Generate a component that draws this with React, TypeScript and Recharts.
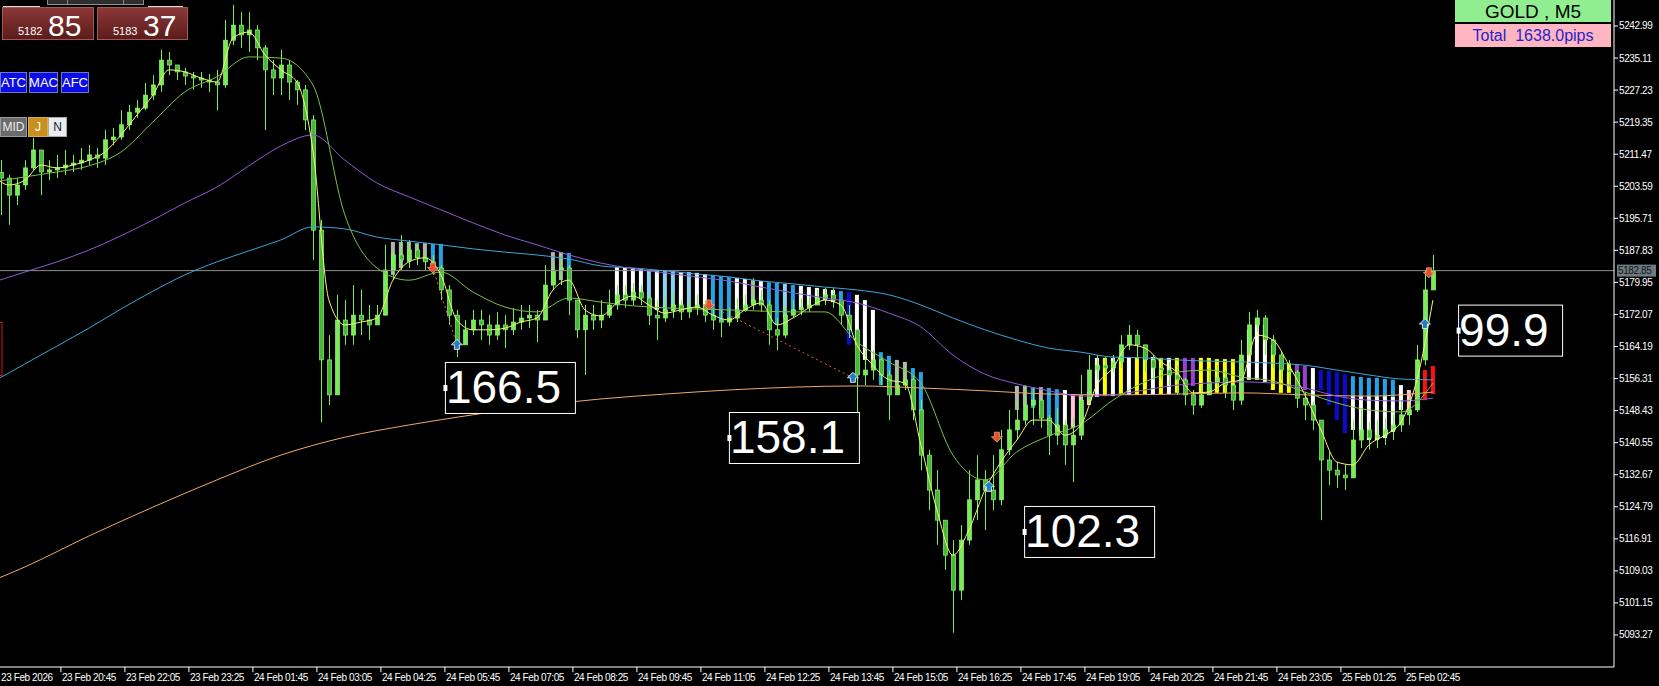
import React from "react";
import { ComposedChart, Bar, Line, Scatter, XAxis, YAxis, ReferenceLine } from "recharts";

const W = 1659;
const H = 686;
const FONT = "Liberation Sans, Arial, sans-serif";

// t = number of M5 bars since 23 Feb 20:45
const X_DOMAIN: [number, number] = [-15.225, 388.275];
const Y_DOMAIN: [number, number] = [5085.4, 5249.38];

// 10-minute candles, starting at t = -15
const barStart = -15;
const barStep = 2;
const firstOpen = 5207.0;
const closes = [
  5205.6, 5201.4, 5203.9, 5208.1, 5212.5, 5207.1, 5207.6, 5208.1, 5208.8, 5209.3,
  5210.0, 5211.3, 5210.5, 5215.0, 5215.7, 5218.7, 5221.8, 5222.8, 5226.0, 5228.5,
  5234.6, 5233.4, 5231.7, 5230.7, 5230.2, 5229.7, 5229.2, 5228.5, 5239.5, 5243.2,
  5240.8, 5242.0, 5237.6, 5232.2, 5230.2, 5233.4, 5229.2, 5227.3, 5219.9, 5192.8,
  5160.9, 5152.3, 5170.7, 5167.0, 5171.9, 5170.7, 5169.5, 5171.9, 5183.0, 5186.7,
  5185.5, 5187.9, 5186.0, 5185.0, 5183.5, 5178.1, 5171.9, 5164.6, 5168.3, 5170.7,
  5169.5, 5167.0, 5169.5, 5168.3, 5170.2, 5171.2, 5171.9, 5170.7, 5179.3, 5183.0,
  5183.5, 5175.6, 5168.3, 5171.9, 5170.7, 5171.9, 5174.4, 5176.9, 5175.6, 5177.6,
  5176.1, 5171.9, 5171.2, 5173.2, 5174.4, 5172.7, 5173.7, 5174.4, 5171.9, 5170.7,
  5170.2, 5171.2, 5173.2, 5174.4, 5175.6, 5174.4, 5168.3, 5167.0, 5171.9, 5173.2,
  5173.7, 5174.4, 5176.1, 5176.9, 5175.6, 5171.9, 5168.3, 5157.2, 5158.4, 5160.9,
  5157.2, 5152.3, 5154.7, 5156.0, 5148.6, 5137.5, 5128.9, 5121.5, 5112.9, 5104.3,
  5116.6, 5126.5, 5131.4, 5128.9, 5126.5, 5138.8, 5143.7, 5146.1, 5149.8, 5151.0,
  5146.6, 5142.4, 5144.9, 5140.0, 5142.4, 5151.0, 5158.4, 5159.6, 5158.9, 5160.4,
  5164.6, 5167.0, 5164.6, 5160.9, 5158.9, 5158.4, 5157.2, 5156.0, 5152.3, 5149.8,
  5152.3, 5155.5, 5156.5, 5154.7, 5151.0, 5162.1, 5169.5, 5171.2, 5165.8, 5162.1,
  5158.4, 5157.9, 5151.5, 5149.8, 5146.1, 5136.3, 5133.8, 5132.6, 5131.9, 5141.2,
  5143.7, 5141.7, 5142.4, 5143.7, 5144.9, 5147.4, 5148.6, 5160.9, 5178.1, 5182.85,
];
const highs = [
  5210.0, 5206.4, 5205.6, 5210.0, 5215.5, 5212.5, 5210.0, 5211.3, 5212.5, 5211.3,
  5213.0, 5213.7, 5213.0, 5217.4, 5217.9, 5222.3, 5223.6, 5224.8, 5229.0, 5230.9,
  5237.1, 5236.6, 5233.4, 5232.7, 5231.7, 5231.7, 5231.2, 5232.2, 5244.5, 5248.2,
  5246.4, 5246.4, 5243.2, 5238.3, 5234.6, 5237.1, 5234.6, 5229.7, 5228.5, 5221.1,
  5195.3, 5167.0, 5176.9, 5175.6, 5179.3, 5178.1, 5174.4, 5174.4, 5189.2, 5187.9,
  5191.6, 5190.4, 5189.2, 5187.9, 5186.7, 5184.2, 5179.3, 5173.2, 5170.7, 5173.2,
  5173.2, 5171.9, 5172.7, 5171.9, 5173.7, 5174.4, 5174.4, 5173.2, 5184.2, 5185.0,
  5186.7, 5184.2, 5175.6, 5174.4, 5174.4, 5175.6, 5178.1, 5179.3, 5179.3, 5179.8,
  5179.3, 5176.9, 5175.6, 5176.1, 5177.6, 5175.6, 5175.6, 5176.9, 5175.6, 5173.7,
  5173.2, 5173.7, 5176.1, 5176.9, 5181.0, 5178.1, 5175.6, 5171.2, 5174.4, 5175.6,
  5176.1, 5176.9, 5178.1, 5178.6, 5178.6, 5175.6, 5174.4, 5168.3, 5163.3, 5163.3,
  5161.4, 5158.4, 5158.4, 5159.6, 5157.2, 5151.0, 5138.8, 5133.8, 5121.5, 5116.6,
  5120.3, 5133.8, 5137.5, 5133.8, 5137.5, 5143.7, 5148.6, 5151.0, 5154.7, 5154.0,
  5151.5, 5147.4, 5149.1, 5146.1, 5146.6, 5157.2, 5162.1, 5162.1, 5161.6, 5162.1,
  5167.0, 5169.5, 5168.3, 5164.6, 5162.1, 5161.4, 5160.4, 5159.6, 5156.5, 5153.5,
  5154.7, 5158.9, 5159.6, 5158.4, 5154.7, 5165.8, 5172.7, 5173.2, 5171.9, 5167.0,
  5162.8, 5160.9, 5158.4, 5153.0, 5150.6, 5146.1, 5138.3, 5135.8, 5135.1, 5146.1,
  5148.6, 5145.6, 5146.1, 5146.6, 5147.4, 5151.0, 5151.5, 5164.6, 5183.0, 5186.7,
];
const lows = [
  5196.5, 5194.1, 5199.0, 5202.7, 5207.6, 5201.4, 5205.1, 5205.6, 5206.4, 5207.1,
  5207.6, 5208.8, 5208.1, 5208.8, 5213.7, 5215.0, 5217.4, 5220.4, 5222.3, 5224.8,
  5226.8, 5230.9, 5229.7, 5228.5, 5227.3, 5227.8, 5226.8, 5222.3, 5227.8, 5238.3,
  5237.6, 5236.6, 5234.6, 5217.4, 5226.0, 5226.0, 5224.8, 5223.6, 5217.4, 5185.5,
  5145.6, 5149.8, 5164.6, 5164.6, 5164.6, 5167.0, 5165.8, 5169.5, 5171.9, 5180.5,
  5183.0, 5183.5, 5184.2, 5183.0, 5181.8, 5175.6, 5169.5, 5161.6, 5164.6, 5167.0,
  5165.8, 5164.6, 5165.8, 5163.8, 5167.0, 5168.3, 5168.7, 5165.3, 5170.7, 5178.1,
  5179.3, 5171.9, 5166.3, 5157.2, 5168.3, 5168.7, 5171.2, 5173.2, 5173.7, 5174.4,
  5174.4, 5169.5, 5165.8, 5170.2, 5171.2, 5170.7, 5171.2, 5171.9, 5170.2, 5168.3,
  5166.5, 5169.2, 5170.2, 5172.7, 5173.2, 5172.7, 5164.6, 5163.3, 5166.3, 5171.2,
  5171.9, 5172.7, 5174.4, 5174.4, 5173.7, 5169.5, 5166.3, 5146.6, 5154.7, 5156.0,
  5154.7, 5146.1, 5152.3, 5153.5, 5146.1, 5133.8, 5124.0, 5115.4, 5109.3, 5093.8,
  5101.9, 5115.4, 5121.5, 5119.1, 5124.0, 5125.2, 5137.5, 5141.2, 5144.9, 5144.9,
  5144.2, 5137.5, 5140.0, 5135.1, 5130.9, 5141.2, 5149.8, 5156.0, 5156.5, 5157.9,
  5158.9, 5163.3, 5160.9, 5157.9, 5156.0, 5156.0, 5154.7, 5152.3, 5149.8, 5147.4,
  5149.1, 5153.0, 5153.5, 5151.5, 5148.6, 5149.8, 5162.1, 5167.8, 5162.1, 5158.9,
  5156.0, 5154.7, 5149.1, 5146.1, 5143.7, 5121.5, 5130.1, 5129.4, 5128.9, 5131.9,
  5139.2, 5138.8, 5139.2, 5140.0, 5141.2, 5143.2, 5144.9, 5148.1, 5159.6, 5178.1,
];

// moving averages
const fastStart = -17;
const fastStep = 4;
const fastMa = [
  5206.4, 5203.9, 5205.1, 5208.8, 5208.1, 5208.8, 5210.0, 5212.0, 5216.2, 5221.1,
  5226.0, 5232.2, 5231.7, 5230.2, 5229.2, 5240.0, 5241.5, 5235.9, 5232.2, 5229.2,
  5212.5, 5175.6, 5169.5, 5170.2, 5171.2, 5180.5, 5185.0, 5186.0, 5181.8, 5170.7,
  5168.3, 5168.3, 5168.7, 5170.2, 5171.2, 5178.1, 5180.5, 5173.2, 5171.7, 5174.9,
  5176.6, 5174.4, 5172.4, 5173.2, 5173.9, 5171.9, 5170.7, 5173.2, 5174.9, 5169.5,
  5171.2, 5173.7, 5175.6, 5174.4, 5164.6, 5159.6, 5156.0, 5155.2, 5140.0, 5124.0,
  5112.9, 5119.1, 5128.9, 5135.8, 5141.2, 5146.1, 5146.1, 5142.4, 5144.9, 5154.7,
  5158.9, 5164.6, 5163.8, 5160.4, 5157.9, 5152.8, 5153.0, 5155.2, 5156.0, 5167.0,
  5165.8, 5159.6, 5152.3, 5143.7, 5135.8, 5135.1, 5140.0, 5142.4, 5145.6, 5156.0,
  5175.6,
];
const slowStart = -17;
const slowStep = 8;
const greenMa = [
  5204.6, 5205.9, 5207.1, 5208.6, 5212.0, 5219.4, 5226.8, 5230.5, 5235.4, 5235.1,
  5228.5, 5196.5, 5183.5, 5180.5, 5182.5, 5177.6, 5173.9, 5172.7, 5176.1, 5175.1,
  5174.2, 5173.7, 5173.4, 5173.2, 5172.9, 5172.7, 5172.7, 5165.3, 5160.4, 5155.2,
  5137.5, 5131.4, 5138.3, 5142.2, 5145.1, 5151.0, 5155.5, 5157.9, 5158.4, 5156.7,
  5155.7, 5153.0, 5150.3, 5148.6, 5148.1, 5155.2,
];
const cyanMa = [
  5155.5, 5159.9, 5164.3, 5168.7, 5173.4, 5177.8, 5181.8, 5185.0, 5187.7, 5190.4,
  5193.6, 5193.1, 5191.1, 5190.1, 5189.2, 5188.2, 5187.4, 5186.7, 5185.7, 5184.0,
  5183.5, 5182.8, 5182.0, 5181.3, 5180.3, 5179.6, 5178.8, 5178.1, 5176.9, 5174.4,
  5171.2, 5168.3, 5165.8, 5163.8, 5162.8, 5161.6, 5161.4, 5160.9, 5160.6, 5160.4,
  5160.1, 5159.6, 5158.4, 5157.2, 5156.2, 5156.0,
];
const purpleMa = [
  5180.0, 5182.5, 5185.0, 5187.9, 5191.4, 5195.3, 5199.5, 5203.4, 5208.6, 5213.5,
  5216.2, 5210.0, 5204.4, 5201.0, 5197.8, 5194.6, 5191.6, 5189.2, 5186.7, 5184.7,
  5183.3, 5182.3, 5181.3, 5180.3, 5178.8, 5177.4, 5176.1, 5174.9, 5172.4, 5169.0,
  5162.1, 5157.4, 5155.0, 5153.3, 5152.0, 5152.3, 5153.5, 5154.7, 5155.2, 5155.5,
  5155.2, 5154.0, 5152.0, 5151.0, 5150.8, 5151.5,
];
const orangeStart = -25;
const orangeStep = 16;
const orangeMa = [
  5103.6, 5110.0, 5117.6, 5124.7, 5131.4, 5137.5, 5141.9, 5144.9, 5147.4, 5149.6,
  5151.3, 5152.5, 5153.5, 5154.2, 5154.5, 5154.0, 5153.3, 5152.5, 5152.3, 5152.5,
  5152.8, 5152.3, 5152.0, 5153.0,
];

// trend histogram: runs of candle indexes, one tone letter per bar
const histFirst = [49, 69, 77, 127];
const histTones = [
  "gggggcc",
  "ggc",
  "wwwwswsswswwcccwwgwccscwwwwwcdwwwccggcc",
  "ggcgccwl" + "llwywywyyw" + "ywyppyyyyy" + "kwwwyyyppw" + "ddddcccccc" + "wlrrr",
];
const histTop = [
  5189.9, 5189.9, 5189.9, 5189.6, 5189.6, 5189.4, 5189.4,
  5187.4, 5187.4, 5187.2,
  5183.7, 5183.5, 5183.5, 5183.3, 5183.0, 5183.0, 5182.8, 5182.8, 5182.5, 5182.5,
  5182.3, 5182.0, 5181.8, 5181.5, 5181.3, 5181.0, 5180.8, 5180.5, 5180.3, 5180.0,
  5179.8, 5179.6, 5179.3, 5179.1, 5178.8, 5178.6, 5178.3, 5178.1, 5177.8, 5177.6,
  5176.9, 5175.6, 5173.2, 5162.8, 5161.9, 5160.9, 5160.4, 5158.9, 5157.9,
  5154.5, 5154.5, 5154.2, 5154.2, 5154.0, 5153.7, 5153.5, 5152.3,
  5152.3, 5153.0, 5161.4, 5161.4, 5161.4, 5161.6, 5161.6, 5161.6, 5161.6, 5161.6,
  5161.4, 5161.4, 5161.4, 5161.4, 5161.4, 5161.4, 5161.4, 5161.1, 5161.1, 5161.1,
  5160.9, 5168.3, 5171.2, 5169.5, 5164.6, 5160.4, 5160.1, 5159.9, 5159.4, 5158.9,
  5158.4, 5158.2, 5157.9, 5157.4, 5156.9, 5156.7, 5156.5, 5156.5, 5156.2, 5156.0,
  5154.7, 5153.5, 5157.9, 5158.4, 5159.4,
];
const histBottom = [
  5181.8, 5183.5, 5185.0, 5186.0, 5185.5, 5185.0, 5182.5,
  5179.3, 5180.5, 5178.1,
  5174.9, 5175.6, 5176.6, 5176.1, 5174.4, 5173.2, 5172.4, 5172.9, 5173.2, 5173.7,
  5173.9, 5172.7, 5171.9, 5170.7, 5171.2, 5172.7, 5173.7, 5174.9, 5174.4, 5170.2,
  5169.5, 5171.2, 5171.9, 5173.2, 5173.9, 5174.9, 5175.6, 5175.1, 5173.9, 5164.6,
  5164.6, 5160.9, 5158.9, 5154.7, 5154.0, 5154.7, 5154.7, 5151.0, 5147.4,
  5148.6, 5149.8, 5149.1, 5147.4, 5144.9, 5143.7, 5143.2, 5144.2,
  5144.9, 5149.8, 5151.8, 5152.0, 5152.0, 5152.3, 5152.3, 5152.3, 5152.5, 5152.5,
  5152.5, 5152.5, 5152.8, 5154.0, 5154.5, 5152.8, 5152.8, 5152.8, 5152.8, 5152.8,
  5152.3, 5156.0, 5156.0, 5155.5, 5153.5, 5152.8, 5152.8, 5154.0, 5153.5, 5149.8,
  5153.5, 5149.8, 5146.1, 5142.9, 5152.0, 5152.0, 5152.0, 5152.0, 5152.0, 5151.8,
  5148.6, 5148.1, 5149.8, 5151.0, 5152.5,
];
// white bars under the last cyan run
const underFirst = 169;
const underTop = [5152.0, 5152.0, 5152.0, 5152.0, 5152.0, 5151.8];
const underBottom = [5143.7, 5142.2, 5141.2, 5141.2, 5141.7, 5143.2];

const toneColors: Record<string, string> = {
  w: "#ffffff",
  g: "#b4b4b4",
  s: "#8cd0f2",
  c: "#22a4e6",
  d: "#0a0ad2",
  y: "#ffff00",
  p: "#9a3ed8",
  k: "#ff5fa8",
  l: "#ffc4d8",
  r: "#ff1010",
};

// signal arrows and the dotted swing lines between them
const sellT = [93, 162, 234, 342];
const sellP = [5183.5, 5174.4, 5141.9, 5182.3];
const buyT = [99, 198, 232, 341];
const buyP = [5164.6, 5156.5, 5129.7, 5169.7];
const swingPairs = [0, 1];

// swing size boxes
const boxT = [96, 167, 240.8, 349.3];
const boxP = [5154.0, 5141.7, 5118.6, 5168.1];
const boxText = ["166.5", "158.1", "102.3", "99.9"];

const priceTicks = [
  5242.99, 5235.11, 5227.23, 5219.35, 5211.47, 5203.59, 5195.71, 5187.83, 5179.95, 5172.07,
  5164.19, 5156.31, 5148.43, 5140.55, 5132.67, 5124.79, 5116.91, 5109.03, 5101.15, 5093.27,
];
const lastPrice = 5182.85;
const dateLabel = "23 Feb 2026";
const timeLabels = [
  "23 Feb 20:45", "23 Feb 22:05", "23 Feb 23:25", "24 Feb 01:45", "24 Feb 03:05", "24 Feb 04:25",
  "24 Feb 05:45", "24 Feb 07:05", "24 Feb 08:25", "24 Feb 09:45", "24 Feb 11:05", "24 Feb 12:25",
  "24 Feb 13:45", "24 Feb 15:05", "24 Feb 16:25", "24 Feb 17:45", "24 Feb 19:05", "24 Feb 20:25",
  "24 Feb 21:45", "24 Feb 23:05", "25 Feb 01:25", "25 Feb 02:45",
];
const labelEvery = 16;

const bidQuote = ["5182", "85"];
const askQuote = ["5183", "37"];
const symbolTitle = "GOLD , M5";
const totalText = "Total  1638.0pips";

// ---- rows ----
const rows: any[] = closes.map((c, i) => {
  const o = i === 0 ? firstOpen : closes[i - 1];
  const hi = Math.max(highs[i], o, c);
  const lo = Math.min(lows[i], o, c);
  return { t: barStart + barStep * i, o, c, hi, lo, candle: [lo, hi] };
});
let hk = 0;
histFirst.forEach((first, r) => {
  histTones[r].split("").forEach((tone, j) => {
    const row = rows[first + j];
    row.hist = [histBottom[hk], histTop[hk]];
    row.tone = tone;
    hk += 1;
  });
});
underTop.forEach((top, j) => {
  rows[underFirst + j].under = [underBottom[j], top];
});

const series = (start: number, step: number, values: number[]) =>
  values.map((v, k) => ({ t: start + step * k, v }));

const sellPts = sellT.map((t, k) => ({ t, p: sellP[k] }));
const buyPts = buyT.map((t, k) => ({ t, p: buyP[k] }));
const boxPts = boxT.map((t, k) => ({ t, p: boxP[k], text: boxText[k] }));

// ---- shapes ----
function Candle(props: any) {
  const { x, y, width, height, payload } = props;
  if (!payload || !isFinite(y) || !isFinite(height)) return <g />;
  const { o, c, hi, lo } = payload;
  const k = hi > lo ? height / (hi - lo) : 0;
  const py = (v: number) => y + (hi - v) * k;
  const mid = Math.round(x + width / 2) + 0.5;
  const top = py(Math.max(o, c));
  const bot = py(Math.min(o, c));
  const up = c >= o;
  return (
    <g>
      <line x1={mid} x2={mid} y1={y} y2={y + height} stroke="#78f050" strokeWidth={1} />
      <rect
        x={mid - 2}
        y={top}
        width={4}
        height={Math.max(1, bot - top)}
        fill={up ? "#78ec58" : "#46b83a"}
        stroke="#92f872"
        strokeWidth={0.7}
      />
    </g>
  );
}

function HistBar(props: any) {
  const { x, y, width, height, payload } = props;
  if (!payload || !payload.tone || !isFinite(y) || !isFinite(height)) return <g />;
  return <rect x={x} y={y} width={width} height={Math.max(1, height)} fill={toneColors[payload.tone]} />;
}

function UnderBar(props: any) {
  const { x, y, width, height, payload } = props;
  if (!payload || !payload.under || !isFinite(y) || !isFinite(height)) return <g />;
  return <rect x={x} y={y} width={width} height={Math.max(1, height)} fill="#ffffff" />;
}

function SellArrow(props: any) {
  const { cx, cy } = props;
  return (
    <path
      d={`M${cx - 2.5},${cy - 5} h5 v4.5 h3 l-5.5,5.5 l-5.5,-5.5 h3 z`}
      fill="#e4502c"
      stroke="#f59a7c"
      strokeWidth={0.8}
    />
  );
}

function BuyArrow(props: any) {
  const { cx, cy } = props;
  return (
    <path
      d={`M${cx},${cy - 5.5} l5.5,5.5 h-3 v4.5 h-5 v-4.5 h-3 z`}
      fill="#1f7fbf"
      stroke="#e8f4ff"
      strokeWidth={0.9}
    />
  );
}

function SwingBox(props: any) {
  const { cx, cy, payload } = props;
  const text: string = payload.text;
  const w = 26 * text.length;
  return (
    <g>
      <rect x={cx + 0.5} y={cy - 25.5} width={w} height={51} fill="#000" stroke="#fff" strokeWidth={1} />
      <rect x={cx - 1.5} y={cy - 3} width={4} height={6} fill="#fff" />
      <text x={cx + 1} y={cy + 15.5} fill="#fff" fontSize={46} fontFamily={FONT}>
        {text}
      </text>
    </g>
  );
}

function TimeTick(props: any) {
  const { x, y, payload } = props;
  const first = payload.value === barStart;
  const label = first ? dateLabel : timeLabels[Math.round(payload.value / labelEvery)];
  return (
    <g>
      {!first && <line x1={x} x2={x} y1={y - 7} y2={y - 2} stroke="#fff" />}
      <text x={first ? 1 : x + 1} y={y + 7} fill="#fff" fontSize={10} letterSpacing={-0.4} fontFamily={FONT}>
        {label}
      </text>
    </g>
  );
}

function PriceTick(props: any) {
  const { x, y, payload } = props;
  return (
    <text x={x} y={y + 3.5} fill="#fff" fontSize={10} letterSpacing={-0.4} fontFamily={FONT} textAnchor="start">
      {Number(payload.value).toFixed(2)}
    </text>
  );
}

function PriceTag(props: any) {
  const vb = props.viewBox || {};
  const x = (vb.x ?? 0) + (vb.width ?? 0);
  const y = vb.y ?? 0;
  return (
    <g>
      <rect x={x + 3} y={y - 6} width={39} height={12} fill="#6f7a82" />
      <text x={x + 4} y={y + 3.5} fill="#121212" fontSize={10} letterSpacing={-0.4} fontFamily={FONT}>
        {lastPrice.toFixed(2)}
      </text>
    </g>
  );
}

function Overlay() {
  const quote = (left: number, width: number, q: string[]) => (
    <g>
      <rect x={left + 0.5} y={7.5} width={width} height={32} fill="url(#quoteGrad)" stroke="#a65656" />
      <text x={left + 16} y={35} fill="#fff" fontSize={11} fontFamily={FONT}>
        {q[0]}
      </text>
      <text x={left + 46} y={35.5} fill="#fff" fontSize={30} fontFamily={FONT}>
        {q[1]}
      </text>
    </g>
  );
  const button = (x: number, y: number, w: number, h: number, fill: string, stroke: string, color: string, label: string, size: number) => (
    <g>
      <rect x={x + 0.5} y={y + 0.5} width={w} height={h} fill={fill} stroke={stroke} />
      <text x={x + 0.5 + w / 2} y={y + h / 2 + size * 0.36} fill={color} fontSize={size} textAnchor="middle" fontFamily={FONT}>
        {label}
      </text>
    </g>
  );
  return (
    <svg width={W} height={H} style={{ position: "absolute", left: 0, top: 0, pointerEvents: "none" }}>
      <defs>
        <linearGradient id="quoteGrad" x1="0" y1="0" x2="0" y2="1">
          <stop offset="0" stopColor="#8c3838" />
          <stop offset="1" stopColor="#5a1b1b" />
        </linearGradient>
      </defs>
      <rect x={47.5} y={-10.5} width={96} height={15} fill="#2e2e2e" stroke="#8c8c8c" />
      <line x1={67.5} x2={67.5} y1={-10} y2={4} stroke="#8c8c8c" />
      <line x1={123.5} x2={123.5} y1={-10} y2={4} stroke="#8c8c8c" />
      {quote(2, 91, bidQuote)}
      {quote(97, 90, askQuote)}
      <line x1={3} x2={40} y1={6.5} y2={6.5} stroke="#d8d8d8" />
      <line x1={148} x2={183} y1={6.5} y2={6.5} stroke="#d8d8d8" />

      {button(0, 72, 26, 20, "#0c0ce8", "#6a78c8", "#fff", "ATC", 13)}
      {button(29, 72, 28, 20, "#0c0ce8", "#6a78c8", "#fff", "MAC", 13)}
      {button(61, 72, 27, 20, "#0c0ce8", "#6a78c8", "#fff", "AFC", 13)}
      {button(0, 117, 26, 19, "#6b6b6b", "#9a9a9a", "#eeeeee", "MID", 12)}
      {button(28, 117, 19, 19, "#c8901e", "#dca850", "#ffffff", "J", 12)}
      {button(48, 117, 18, 19, "#ececec", "#a8a8a8", "#101840", "N", 12)}

      <rect x={-30} y={322.5} width={32} height={53} fill="none" stroke="#d01818" />

      <rect x={1455} y={0} width={156} height={22} fill="#90ee90" />
      <text x={1533} y={17.5} fontSize={19} textAnchor="middle" fill="#000" fontFamily={FONT}>
        {symbolTitle}
      </text>
      <rect x={1455} y={24} width={156} height={23} fill="#ffb6c1" />
      <text x={1533} y={41} fontSize={16} textAnchor="middle" fill="#2424c8" fontFamily={FONT} style={{ whiteSpace: "pre" }}>
        {totalText}
      </text>
    </svg>
  );
}

export default function App() {
  const ticksX = [barStart, ...timeLabels.map((_, k) => k * labelEvery)];
  return (
    <div style={{ position: "relative", width: W, height: H, background: "#000", overflow: "hidden" }}>
      <style>{"body{margin:0;background:#000}"}</style>
      <ComposedChart width={W} height={H} data={rows} margin={{ top: 0, right: 0, bottom: 0, left: 0 }}>
        <XAxis
          type="number"
          dataKey="t"
          domain={X_DOMAIN}
          allowDataOverflow
          ticks={ticksX}
          interval={0}
          height={19}
          stroke="#fff"
          tickLine={false}
          tickSize={5}
          tickMargin={2}
          tick={<TimeTick />}
        />
        <XAxis xAxisId="hist" type="number" dataKey="t" domain={X_DOMAIN} allowDataOverflow hide />
        <XAxis xAxisId="under" type="number" dataKey="t" domain={X_DOMAIN} allowDataOverflow hide />
        <YAxis
          orientation="right"
          domain={Y_DOMAIN}
          allowDataOverflow
          ticks={priceTicks}
          interval={0}
          width={45}
          stroke="#fff"
          tickSize={4}
          tickMargin={1}
          tick={<PriceTick />}
        />
        <ReferenceLine y={lastPrice} stroke="#8e8e8e" label={<PriceTag />} />
        <Bar xAxisId="hist" dataKey="hist" barSize={4} shape={<HistBar />} isAnimationActive={false} />
        <Bar xAxisId="under" dataKey="under" barSize={4} shape={<UnderBar />} isAnimationActive={false} />
        <Bar dataKey="candle" barSize={5} shape={<Candle />} isAnimationActive={false} />
        <Line data={series(orangeStart, orangeStep, orangeMa)} dataKey="v" type="monotone" stroke="#f0a868" strokeWidth={1} dot={false} isAnimationActive={false} />
        <Line data={series(slowStart, slowStep, cyanMa)} dataKey="v" type="monotone" stroke="#3aa6dc" strokeWidth={1} dot={false} isAnimationActive={false} />
        <Line data={series(slowStart, slowStep, purpleMa)} dataKey="v" type="monotone" stroke="#8e5ad8" strokeWidth={1} dot={false} isAnimationActive={false} />
        <Line data={series(slowStart, slowStep, greenMa)} dataKey="v" type="monotone" stroke="#7cc046" strokeWidth={1} dot={false} isAnimationActive={false} />
        <Line data={series(fastStart, fastStep, fastMa)} dataKey="v" type="monotone" stroke="#f8f870" strokeWidth={1} dot={false} isAnimationActive={false} />
        {swingPairs.map((k) => (
          <Line
            key={`swing-${k}`}
            data={[
              { t: sellT[k], v: sellP[k] },
              { t: buyT[k], v: buyP[k] },
            ]}
            dataKey="v"
            type="linear"
            stroke="#e8603c"
            strokeDasharray="2 3"
            strokeWidth={1}
            dot={false}
            isAnimationActive={false}
          />
        ))}
        <Scatter data={sellPts} dataKey="p" shape={<SellArrow />} isAnimationActive={false} />
        <Scatter data={buyPts} dataKey="p" shape={<BuyArrow />} isAnimationActive={false} />
        <Scatter data={boxPts} dataKey="p" shape={<SwingBox />} isAnimationActive={false} />
      </ComposedChart>
      <Overlay />
    </div>
  );
}
